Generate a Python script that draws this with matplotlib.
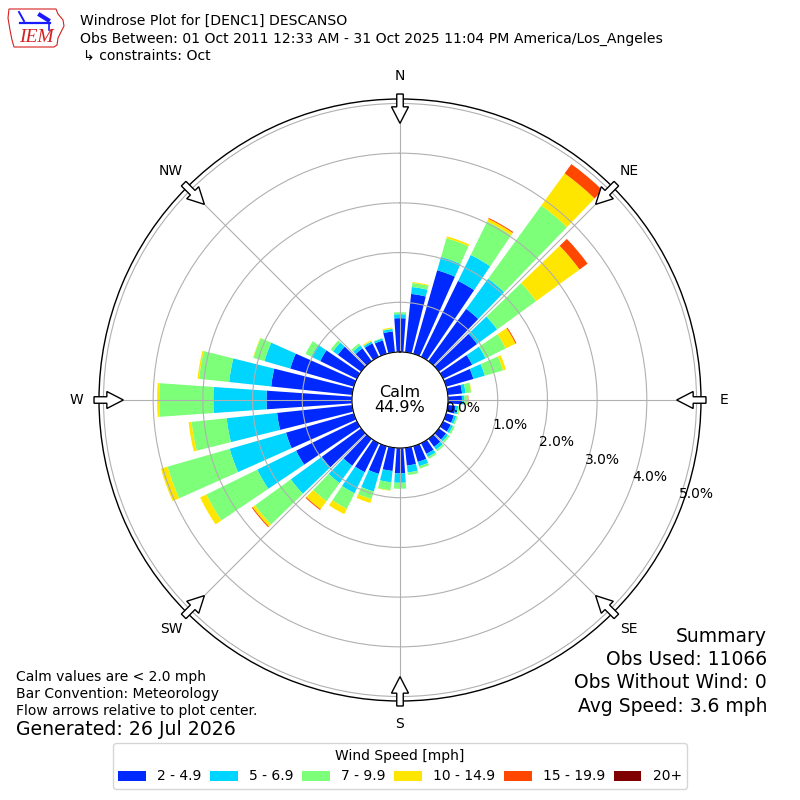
import matplotlib
matplotlib.use('Agg')
import matplotlib.pyplot as plt
import matplotlib.transforms as mtransforms
from matplotlib.patches import FancyArrow, Polygon
from matplotlib.lines import Line2D
import numpy as np

# wind direction bins (deg, meteorological) and speed bins
directions = np.arange(0, 360, 10)
speed_bins = ['2 - 4.9', '5 - 6.9', '7 - 9.9', '10 - 14.9', '15 - 19.9', '20+']

# percent of observations per direction, one list per speed bin
pct_2_5 = [0.68, 1.18, 1.75, 1.70, 1.30, 0.95, 0.65, 0.57, 0.29, 0.28, 0.16, 0.16,
           0.17, 0.18, 0.20, 0.24, 0.33, 0.36, 0.51, 0.47, 0.58, 0.65, 0.67, 0.98,
           1.36, 1.42, 1.52, 1.72, 1.64, 1.33, 0.82, 0.58, 0.32, 0.30, 0.28, 0.42]
pct_5_7 = [0.08, 0.14, 0.28, 0.58, 0.75, 0.50, 0.30, 0.24, 0.07, 0.05, 0.05, 0.05,
           0.05, 0.05, 0.07, 0.07, 0.09, 0.14, 0.19, 0.23, 0.37, 0.47, 0.43, 0.77,
           0.87, 1.18, 1.02, 1.07, 0.85, 0.54, 0.20, 0.12, 0.07, 0.04, 0.04, 0.05]
pct_7_10 = [0.04, 0.08, 0.39, 0.75, 1.82, 0.97, 0.45, 0.38, 0.11, 0.05, 0.03, 0.03,
            0.04, 0.04, 0.04, 0.04, 0.05, 0.05, 0.12, 0.16, 0.16, 0.35, 0.45, 0.89,
            1.14, 1.30, 0.71, 1.09, 0.61, 0.23, 0.13, 0.06, 0.05, 0.01, 0.01, 0.01]
pct_10_15 = [0.00, 0.02, 0.04, 0.06, 0.80, 1.08, 0.22, 0.06, 0.01, 0.02, 0.01, 0.00,
             0.00, 0.00, 0.00, 0.00, 0.00, 0.00, 0.00, 0.01, 0.08, 0.12, 0.20, 0.06,
             0.14, 0.14, 0.06, 0.04, 0.03, 0.01, 0.00, 0.00, 0.00, 0.02, 0.00, 0.02]
pct_15_20 = [0.00, 0.00, 0.00, 0.02, 0.23, 0.20, 0.02, 0.00, 0.00, 0.01, 0.00, 0.00,
             0.00, 0.00, 0.00, 0.00, 0.00, 0.00, 0.00, 0.00, 0.00, 0.00, 0.02, 0.02,
             0.00, 0.00, 0.00, 0.00, 0.00, 0.00, 0.00, 0.00, 0.00, 0.00, 0.00, 0.00]
pct_20_up = [0.00, 0.00, 0.00, 0.00, 0.00, 0.00, 0.00, 0.00, 0.00, 0.00, 0.00, 0.00,
             0.00, 0.00, 0.00, 0.00, 0.00, 0.00, 0.00, 0.00, 0.00, 0.00, 0.00, 0.00,
             0.00, 0.00, 0.00, 0.00, 0.00, 0.00, 0.00, 0.00, 0.00, 0.00, 0.00, 0.00]

rings = [0, 1, 2, 3, 4, 5]
compass = ['N', 'NE', 'E', 'SE', 'S', 'SW', 'W', 'NW']
compass_deg = [0, 45, 90, 135, 180, 225, 270, 315]

calm_pct = 44.9
obs_used = 11066
obs_without_wind = 0
avg_speed = 3.6

series = [pct_2_5, pct_5_7, pct_7_10, pct_10_15, pct_15_20, pct_20_up]
colors = plt.cm.jet(np.arange(1, 7) / 6.)

fig = plt.figure(figsize=(8, 8), dpi=100)
ax = fig.add_axes([0.12375, 0.12375, 0.7525, 0.7525], projection='polar')
ax.set_theta_zero_location('N')
ax.set_theta_direction(-1)
ax.set_rorigin(-0.966)
ax.set_ylim(0, 5.09)

theta = np.radians(directions)
bottom = np.zeros(len(directions))
for vals, col, lab in zip(series, colors, speed_bins):
    vals = np.asarray(vals, dtype=float)
    ax.bar(theta, vals, width=np.radians(8), bottom=bottom, color=col,
           linewidth=0, label=lab, align='center')
    bottom += vals

ax.set_yticks(rings)
ax.set_yticklabels([])
ax.set_xticks(np.radians(compass_deg))
ax.set_xticklabels([])
ax.tick_params(length=0)
ax.grid(True, color='#b0b0b0', linewidth=0.8)
ax.spines['polar'].set_linewidth(1.0)

# radial labels
for r in rings:
    ax.annotate('%.1f%%' % r, xy=(np.radians(110.3), r), xytext=(18, 8.7),
                textcoords='offset pixels', ha='center', va='center',
                fontsize=10, annotation_clip=False)

ax.text(0.5, 0.5, 'Calm\n%.1f%%' % calm_pct, transform=ax.transAxes,
        ha='center', va='center', fontsize=11.5, linespacing=0.95)

# flow arrows and compass labels
ident = mtransforms.IdentityTransform()
for lab, deg in zip(compass, compass_deg):
    t = np.radians(deg)
    x0, y0 = ax.transData.transform((t, 5.19))
    x1, y1 = ax.transData.transform((t, 4.60))
    arr = FancyArrow(x0, y0, x1 - x0, y1 - y0, width=6.5, head_width=17,
                     head_length=16.5, length_includes_head=True, fc='white',
                     ec='black', lw=1.0, transform=ident, zorder=5)
    fig.add_artist(arr)
    ax.text(t, 5.55, lab, ha='center', va='center', fontsize=10, clip_on=False)

# header
H = 800.
fig.text(80 / H, 1 - 25 / H, 'Windrose Plot for [DENC1] DESCANSO', fontsize=10.1, va='baseline')
fig.text(80 / H, 1 - 43 / H,
         'Obs Between: 01 Oct 2011 12:33 AM - 31 Oct 2025 11:04 PM America/Los_Angeles',
         fontsize=10.1, va='baseline')
fig.text(83 / H, 1 - 60 / H, '\u21b3 constraints: Oct', fontsize=10.1, va='baseline')

# logo
iowa = [(9, 9), (56, 9), (58, 14), (63, 20), (64, 26), (61, 32), (58, 38),
        (57, 45), (54, 47), (14, 47), (12, 40), (10, 30), (8, 18)]
fig.add_artist(Polygon([(x, H - y) for x, y in iowa], closed=True, fill=False,
                       ec='#d42020', lw=0.8, transform=ident))
fig.add_artist(Line2D([20, 50], [H - 23, H - 23], color='#1a1aff', lw=1.6, transform=ident))
fig.add_artist(Line2D([19, 24], [H - 12, H - 21], color='#1a1aff', lw=1.4, transform=ident))
fig.add_artist(Line2D([40, 48], [H - 15, H - 20], color='#1a1aff', lw=3, transform=ident))
fig.add_artist(Line2D([49, 49], [H - 23, H - 30], color='#1a1aff', lw=1.2, transform=ident))
fig.text(36 / H, 1 - 42 / H, 'IEM', color='#d42020', fontsize=14, style='italic',
         family='Liberation Serif', ha='center', va='baseline')

# footer left
fig.text(16 / H, 1 - 680.7 / H, 'Calm values are < 2.0 mph', fontsize=10, va='baseline')
fig.text(16 / H, 1 - 698 / H, 'Bar Convention: Meteorology', fontsize=10, va='baseline')
fig.text(16 / H, 1 - 715 / H, 'Flow arrows relative to plot center.', fontsize=10, va='baseline')
fig.text(16 / H, 1 - 735 / H, 'Generated: 26 Jul 2026', fontsize=13.6, va='baseline')

# summary right
summary = ['Summary', 'Obs Used: %d' % obs_used,
           'Obs Without Wind: %d' % obs_without_wind,
           'Avg Speed: %.1f mph' % avg_speed]
for i, line in enumerate(summary):
    fig.text(767 / H, 1 - (641.7 + 23.3 * i) / H, line, fontsize=13.5,
             ha='right', va='baseline')

handles, labels = ax.get_legend_handles_labels()
fig.legend(handles, labels, loc='lower center', bbox_to_anchor=(0.5, 0.005),
           ncol=6, title='Wind Speed [mph]', fontsize=10, title_fontsize=10,
           columnspacing=0.62)

fig.savefig('out.png', dpi=100)
